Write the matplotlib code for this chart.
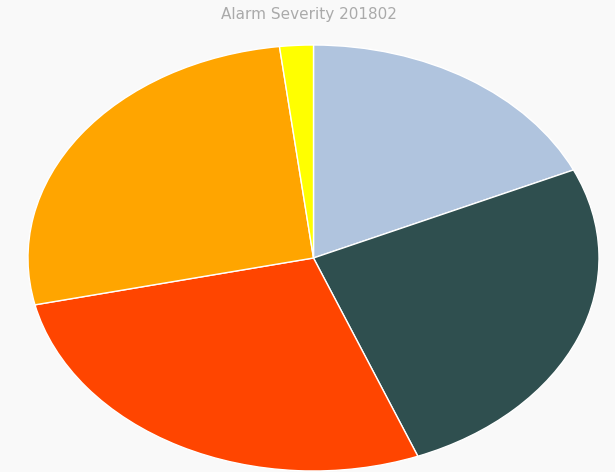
import matplotlib.pyplot as plt

# --------- Dados ---------
severities = ["Minor", "Major", "Critical", "Warning", "Indeterminate"]
values = [18.2, 25.8, 27.4, 26.6, 1.9]
colors = ["#B0C4DE", "#2F4F4F", "#FF4500", "#FFA500", "#FFFF00"]

# --------- Figura ---------
fig = plt.figure(figsize=(6.15, 4.72), dpi=100)
fig.patch.set_facecolor("#f9f9f9")

ax = fig.add_axes([28 / 615, 1 / 472, 571 / 615, 426 / 472])
ax.set_facecolor("#f9f9f9")
ax.pie(
    values, colors=colors, startangle=90, counterclock=False,
    wedgeprops={"edgecolor": "white", "linewidth": 1}
)
ax.set_aspect("auto")
ax.set_xlim(-1, 1)
ax.set_ylim(-1, 1)
ax.axis("off")

fig.text(0.503, 1 - 14 / 472, "Alarm Severity 201802", ha="center", va="center",
         fontsize=11, color="#aaaaaa", family="DejaVu Sans")

plt.savefig("out.png", dpi=100, facecolor=fig.get_facecolor())
